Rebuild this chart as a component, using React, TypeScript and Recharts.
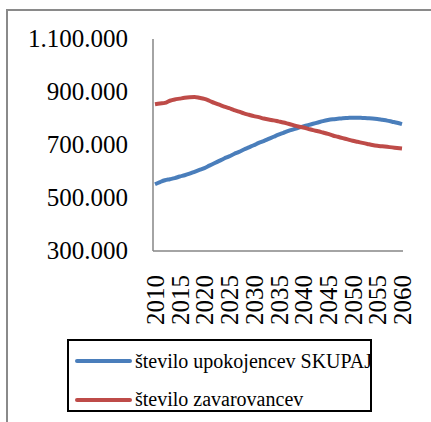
import React from "react";
import { LineChart, Line, XAxis, YAxis } from "recharts";

// years 2010..2060, one value per year
const years = [
	2010, 2011, 2012, 2013, 2014, 2015, 2016, 2017, 2018, 2019,
	2020, 2021, 2022, 2023, 2024, 2025, 2026, 2027, 2028, 2029,
	2030, 2031, 2032, 2033, 2034, 2035, 2036, 2037, 2038, 2039,
	2040, 2041, 2042, 2043, 2044, 2045, 2046, 2047, 2048, 2049,
	2050, 2051, 2052, 2053, 2054, 2055, 2056, 2057, 2058, 2059, 2060,
];

const upokojenci = [
	552000, 560000, 567000, 571000, 575000, 581000, 586000, 592000, 599000, 606000,
	613000, 622000, 631000, 640000, 649000, 657000, 666000, 674000, 683000, 691000,
	699000, 708000, 715000, 723000, 731000, 739000, 746000, 753000, 759000, 765000,
	770000, 775000, 780000, 785000, 790000, 794000, 797000, 799000, 801000, 802000,
	803000, 803000, 802000, 801000, 800000, 798000, 795000, 792000, 788000, 784000, 779000,
];

const zavarovanci = [
	854000, 857000, 859000, 867000, 872000, 875000, 878000, 880000, 881000, 878000,
	874000, 867000, 859000, 852000, 845000, 839000, 832000, 826000, 819000, 814000,
	809000, 805000, 800000, 796000, 793000, 789000, 785000, 780000, 775000, 770000,
	766000, 761000, 756000, 752000, 747000, 742000, 736000, 731000, 726000, 721000,
	716000, 712000, 708000, 704000, 700000, 697000, 695000, 693000, 691000, 689000, 687000,
];

const xTicks = [2010, 2015, 2020, 2025, 2030, 2035, 2040, 2045, 2050, 2055, 2060];
const yTicks = [300000, 500000, 700000, 900000, 1100000];

const series = [
	{ key: "upokojenci", name: "število upokojencev SKUPAJ", color: "#4a7ebb" },
	{ key: "zavarovanci", name: "število zavarovancev", color: "#be4b48" },
];

const data = years.map((year, i) => ({
	year,
	upokojenci: upokojenci[i],
	zavarovanci: zavarovanci[i],
}));

const FONT = '"Liberation Serif"';

const fmt = (v: number) => String(v).replace(/\B(?=(\d{3})+(?!\d))/g, ".");

const YearTick = (props: any) => {
	const { x, y, payload } = props;
	return (
		<text
			x={0}
			y={0}
			transform={`translate(${x + 9}, ${y + 16}) rotate(-90)`}
			textAnchor="end"
			style={{ fontFamily: FONT, fontSize: 25 }}
			fill="#000"
		>
			{payload.value}
		</text>
	);
};

const YValueTick = (props: any) => {
	const { x, y, payload } = props;
	return (
		<text x={x} y={y} dy={8} textAnchor="end" style={{ fontFamily: FONT, fontSize: 25 }} fill="#000">
			{fmt(payload.value)}
		</text>
	);
};

const App: React.FC = () => {
	return (
		<div style={{ position: "absolute", left: 0, top: 0, width: 431, height: 422, background: "#fff", overflow: "hidden", fontFamily: FONT }}>
			{/* outer frame (only top and left edges visible) */}
			<div style={{ position: "absolute", left: 6, top: 9, right: -10, bottom: -10, borderTop: "2px solid #8a8a8a", borderLeft: "2px solid #8a8a8a" }} />
			<div style={{ position: "absolute", left: 0, top: 0 }}>
				<LineChart width={431} height={422} data={data} margin={{ top: 39, right: 28, left: 0, bottom: 0 }}>
					<XAxis
						dataKey="year"
						type="number"
						domain={[2010, 2060]}
						ticks={xTicks}
						interval={0}
						height={171}
						tickLine={false}
						axisLine={{ stroke: "#868686", strokeWidth: 1.5 }}
						tick={<YearTick />}
						padding={{ left: 2, right: 1 }}
					/>
					<YAxis
						type="number"
						domain={[300000, 1100000]}
						ticks={yTicks}
						width={153}
						tickLine={false}
						tickSize={6}
						tickMargin={19}
						axisLine={{ stroke: "#868686", strokeWidth: 1.5 }}
						tick={<YValueTick />}
					/>
					{series.map((s) => (
						<Line
							key={s.key}
							dataKey={s.key}
							name={s.name}
							type="monotone"
							stroke={s.color}
							strokeWidth={4}
							dot={false}
							isAnimationActive={false}
						/>
					))}
				</LineChart>
			</div>
			{/* legend */}
			<div style={{ position: "absolute", left: 67, top: 339, width: 301, height: 69, border: "2px solid #000", fontFamily: FONT, fontSize: 20, color: "#000", overflow: "hidden" }}>
				{series.map((s, i) => (
					<div key={s.key} style={{ position: "absolute", left: 0, top: 8 + i * 38.5, height: 24, display: "flex", alignItems: "center", whiteSpace: "nowrap" }}>
						<svg width={66} height={24} style={{ display: "block" }}>
							<line x1={8} y1={12} x2={61} y2={12} stroke={s.color} strokeWidth={4} strokeLinecap="round" />
						</svg>
						<span>{s.name}</span>
					</div>
				))}
			</div>
		</div>
	);
};

export default App;
